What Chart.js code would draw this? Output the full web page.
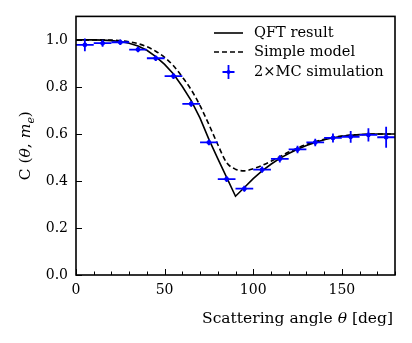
<!DOCTYPE html>
<html>
<head>
<meta charset="utf-8">
<script src="https://cdn.jsdelivr.net/npm/chart.js@4"></script>
<style>
  html, body { margin: 0; padding: 0; background: #fff; }
  canvas { display: block; }
</style>
</head>
<body>
<canvas id="plot" width="412" height="343"></canvas>
<script>
// Curves (theory), sampled every 5 degrees
const curveAngles = [0, 5, 10, 15, 20, 25, 30, 35, 40, 45, 50, 55, 60, 65, 70, 75, 80, 85, 90,
    95, 100, 105, 110, 115, 120, 125, 130, 135, 140, 145, 150, 155, 160, 165, 170, 175, 180];
const qftValues = [1.000, 1.000, 1.000, 0.999, 0.997, 0.993, 0.986, 0.974, 0.956, 0.929, 0.896, 0.855,
    0.802, 0.742, 0.667, 0.577, 0.495, 0.415, 0.335, 0.372, 0.410, 0.443, 0.471, 0.496, 0.517, 0.535,
    0.551, 0.564, 0.575, 0.584, 0.590, 0.594, 0.597, 0.599, 0.600, 0.600, 0.600];
const simpleValues = [1.000, 1.000, 1.000, 1.000, 0.999, 0.997, 0.992, 0.984, 0.971, 0.952, 0.926, 0.890,
    0.842, 0.788, 0.720, 0.640, 0.555, 0.478, 0.450, 0.443, 0.452, 0.466, 0.484, 0.503, 0.523, 0.540,
    0.555, 0.567, 0.577, 0.585, 0.591, 0.595, 0.597, 0.599, 0.600, 0.600, 0.600];

// Monte Carlo points (bin centres, values, errors)
const mcAngles = [5, 15, 25, 35, 45, 55, 65, 75, 85, 95, 105, 115, 125, 135, 145, 155, 165, 175];
const mcValues = [0.979, 0.986, 0.990, 0.959, 0.922, 0.846, 0.728, 0.564, 0.408, 0.367, 0.448, 0.494,
    0.534, 0.564, 0.583, 0.588, 0.596, 0.586];
const mcErrors = [0.027, 0.015, 0.012, 0.012, 0.012, 0.012, 0.012, 0.012, 0.012, 0.013, 0.013, 0.015,
    0.016, 0.016, 0.019, 0.025, 0.028, 0.045];
const mcBinHalf = [5, 5, 5, 5, 5, 5, 5, 5, 5, 5, 5, 5, 5, 5, 5, 5, 5, 5];

const legendLabels = ['QFT result', 'Simple model', '2\u00d7MC simulation'];

// axis titles, split into upright / italic pieces
const xTitleParts = [
    {t: 'Scattering angle '},
    {t: '\u03b8', it: true},
    {t: ' [deg]'}
];
const yTitleParts = [
    {t: 'C ('},
    {t: '\u03b8', it: true},
    {t: ', '},
    {t: 'm', it: true},
    {t: 'e', it: true, sub: true},
    {t: ')'}
];

const FONT = 'DejaVu Serif';
const BLUE = '#0000ff';

function partFont(p, size) {
    const s = p.sub ? size * 0.7 : size;
    return (p.it ? 'italic ' : '') + s + 'px "' + FONT + '"';
}

// draws a rich text line, right end or centre at (x, y) in the current frame
function drawParts(ctx, parts, x, y, size, align) {
    let total = 0;
    const widths = parts.map(p => {
        ctx.font = partFont(p, size);
        const w = ctx.measureText(p.t).width;
        total += w;
        return w;
    });
    let cx = align === 'right' ? x - total : x - total / 2;
    ctx.textAlign = 'left';
    ctx.textBaseline = 'alphabetic';
    parts.forEach((p, i) => {
        ctx.font = partFont(p, size);
        ctx.fillText(p.t, cx, y + (p.sub ? size * 0.25 : 0));
        cx += widths[i];
    });
}

// error bars, frame, inward ticks, titles and legend
const decorPlugin = {
    id: 'decorPlugin',
    afterDatasetsDraw: (chart) => {
        const {ctx, scales: {x, y}} = chart;
        ctx.save();
        ctx.strokeStyle = BLUE;
        ctx.lineWidth = 1.8;
        mcAngles.forEach((a, i) => {
            const px = x.getPixelForValue(a);
            const py = y.getPixelForValue(mcValues[i]);
            ctx.beginPath();
            ctx.moveTo(x.getPixelForValue(a - mcBinHalf[i]), py);
            ctx.lineTo(x.getPixelForValue(a + mcBinHalf[i]), py);
            ctx.moveTo(px, y.getPixelForValue(mcValues[i] - mcErrors[i]));
            ctx.lineTo(px, y.getPixelForValue(mcValues[i] + mcErrors[i]));
            ctx.stroke();
        });
        ctx.restore();
    },
    afterDraw: (chart) => {
        const {ctx, chartArea: {top, bottom, left, right}, scales: {x, y}} = chart;
        ctx.save();
        ctx.strokeStyle = '#000';

        // ticks pointing inwards
        ctx.lineWidth = 1;
        ctx.beginPath();
        x.ticks.forEach(t => {
            const px = Math.round(x.getPixelForValue(t.value)) + 0.5;
            const len = t.value % 50 === 0 ? 6 : 3.5;
            ctx.moveTo(px, bottom);
            ctx.lineTo(px, bottom - len);
        });
        y.ticks.forEach(t => {
            const py = Math.round(y.getPixelForValue(t.value)) + 0.5;
            ctx.moveTo(left, py);
            ctx.lineTo(left + 6, py);
        });
        ctx.stroke();

        // frame
        ctx.lineWidth = 1.6;
        ctx.strokeRect(left, top, right - left, bottom - top);

        // axis titles
        ctx.fillStyle = '#000';
        drawParts(ctx, xTitleParts, right - 2, bottom + 48, 15.5, 'right');
        ctx.save();
        ctx.translate(30, (top + bottom) / 2);
        ctx.rotate(-Math.PI / 2);
        drawParts(ctx, yTitleParts, 0, 0, 15.5, 'center');
        ctx.restore();

        // legend
        const lx0 = 214, lx1 = 243, tx = 254;
        const rows = [33, 52, 72];
        ctx.lineWidth = 1.6;
        ctx.beginPath();
        ctx.moveTo(lx0, rows[0]);
        ctx.lineTo(lx1, rows[0]);
        ctx.stroke();
        ctx.setLineDash([5, 3]);
        ctx.beginPath();
        ctx.moveTo(lx0, rows[1]);
        ctx.lineTo(lx1, rows[1]);
        ctx.stroke();
        ctx.setLineDash([]);
        const mx = (lx0 + lx1) / 2;
        ctx.strokeStyle = BLUE;
        ctx.lineWidth = 1.8;
        ctx.beginPath();
        ctx.moveTo(mx - 6, rows[2]);
        ctx.lineTo(mx + 6, rows[2]);
        ctx.moveTo(mx, rows[2] - 7);
        ctx.lineTo(mx, rows[2] + 7);
        ctx.stroke();
        ctx.fillStyle = BLUE;
        ctx.beginPath();
        ctx.arc(mx, rows[2], 2, 0, Math.PI * 2);
        ctx.fill();

        ctx.fillStyle = '#000';
        ctx.font = '14.6px "' + FONT + '"';
        ctx.textBaseline = 'middle';
        ctx.textAlign = 'left';
        legendLabels.forEach((lab, i) => ctx.fillText(lab, tx, rows[i]));
        ctx.restore();
    }
};

const ctx = document.getElementById('plot').getContext('2d');

const chart = new Chart(ctx, {
    data: {
        datasets: [{
            type: 'line',
            label: legendLabels[0],
            data: curveAngles.map((a, i) => ({x: a, y: qftValues[i]})),
            borderColor: '#000',
            borderWidth: 1.6,
            pointRadius: 0,
            tension: 0,
            order: 2
        }, {
            type: 'line',
            label: legendLabels[1],
            data: curveAngles.map((a, i) => ({x: a, y: simpleValues[i]})),
            borderColor: '#000',
            borderWidth: 1.6,
            borderDash: [5, 3],
            pointRadius: 0,
            cubicInterpolationMode: 'monotone',
            order: 3
        }, {
            type: 'scatter',
            label: legendLabels[2],
            data: mcAngles.map((a, i) => ({x: a, y: mcValues[i]})),
            backgroundColor: BLUE,
            borderColor: BLUE,
            pointRadius: 2,
            order: 1
        }]
    },
    options: {
        responsive: false,
        animation: false,
        devicePixelRatio: 1,
        layout: {padding: {left: 0, right: 17, top: 16, bottom: 0}},
        plugins: {
            legend: {display: false},
            tooltip: {enabled: false}
        },
        scales: {
            x: {
                type: 'linear',
                min: 0,
                max: 180,
                grid: {display: false, drawTicks: false, tickLength: 0},
                border: {display: false},
                ticks: {
                    stepSize: 10,
                    autoSkip: false,
                    maxRotation: 0,
                    padding: 7,
                    color: '#000',
                    font: {family: FONT, size: 14},
                    callback: function(value) {
                        return value % 50 === 0 ? String(value) : '';
                    }
                },
                title: {display: false},
                afterFit: function(scale) { scale.height = 68; }
            },
            y: {
                type: 'linear',
                min: 0,
                max: 1.1,
                grid: {display: false, drawTicks: false, tickLength: 0},
                border: {display: false},
                ticks: {
                    stepSize: 0.2,
                    includeBounds: false,
                    padding: 8,
                    color: '#000',
                    font: {family: FONT, size: 14},
                    callback: function(value) {
                        return value.toFixed(1);
                    }
                },
                title: {display: false},
                afterFit: function(scale) { scale.width = 76; }
            }
        }
    },
    plugins: [decorPlugin]
});
</script>
</body>
</html>
